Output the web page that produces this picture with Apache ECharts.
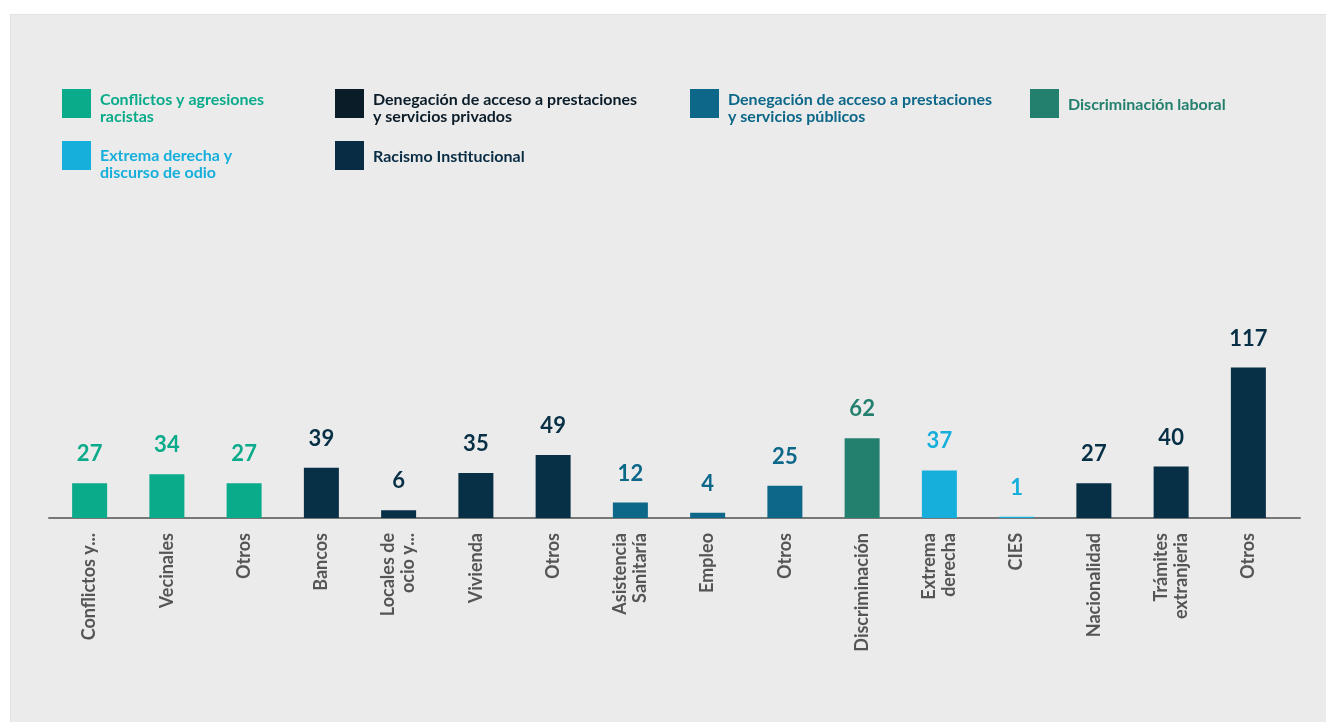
<!DOCTYPE html>
<html>
<head>
<meta charset="utf-8">
<script src="https://cdn.jsdelivr.net/npm/echarts@6/dist/echarts.min.js"></script>
<style>
  html, body { margin: 0; padding: 0; background: #fff; width: 1326px; height: 722px; overflow: hidden; }
  .panel { position: absolute; left: 10px; top: 14px; right: 0; bottom: 0; background: #ebebeb; border-left: 1px solid #e2e2e2; border-top: 1px solid #e2e2e2; }
  #chart { position: absolute; left: 0; top: 0; width: 1326px; height: 722px; }
</style>
</head>
<body>
<div class="panel"></div>
<div id="chart"></div>
<script>
  // categorias del eje x (en orden)
  var categories = ['Conflictos y...', 'Vecinales', 'Otros', 'Bancos', 'Locales de\nocio y...', 'Vivienda', 'Otros',
    'Asistencia\nSanitaría', 'Empleo', 'Otros', 'Discriminación', 'Extrema\nderecha', 'CIES',
    'Nacionalidad', 'Trámites\nextranjeria', 'Otros']

  // valores por grupo ('-' = no pertenece al grupo)
  var conflictos    = [27, 34, 27, '-', '-', '-', '-', '-', '-', '-', '-', '-', '-', '-', '-', '-']
  var privados      = ['-', '-', '-', 39, 6, 35, 49, '-', '-', '-', '-', '-', '-', '-', '-', '-']
  var publicos      = ['-', '-', '-', '-', '-', '-', '-', 12, 4, 25, '-', '-', '-', '-', '-', '-']
  var laboral       = ['-', '-', '-', '-', '-', '-', '-', '-', '-', '-', 62, '-', '-', '-', '-', '-']
  var extrema       = ['-', '-', '-', '-', '-', '-', '-', '-', '-', '-', '-', 37, 1, '-', '-', '-']
  var institucional = ['-', '-', '-', '-', '-', '-', '-', '-', '-', '-', '-', '-', '-', 27, 40, 117]

  // firstLine: alto de la primera linea del texto de la leyenda (empuja el texto hacia abajo)
  var groups = [
    { name: 'Conflictos y agresiones\nracistas', data: conflictos, color: '#0aab8a', legendColor: '#0aab8a', left: 62, top: 89, firstLine: 26 },
    { name: 'Denegación de acceso a prestaciones\ny servicios privados', data: privados, color: '#072f46', legendColor: '#0b1c29', left: 335, top: 89, firstLine: 26 },
    { name: 'Denegación de acceso a prestaciones\ny servicios públicos', data: publicos, color: '#0c6789', legendColor: '#0c6789', left: 690, top: 89, firstLine: 26 },
    { name: 'Discriminación laboral', data: laboral, color: '#24806e', legendColor: '#24806e', left: 1030, top: 89, firstLine: 18 },
    { name: 'Extrema derecha y\ndiscurso de odio', data: extrema, color: '#16afdc', legendColor: '#16afdc', left: 62, top: 141, firstLine: 34 },
    { name: 'Racismo Institucional', data: institucional, color: '#072f46', legendColor: '#082c43', left: 335, top: 141, firstLine: 18 }
  ]

  var chart = echarts.init(document.getElementById('chart'))

  var option = {
    backgroundColor: 'transparent',
    animation: false,
    textStyle: { fontFamily: 'Lato' },
    legend: groups.map(function (g) {
      var base = { color: g.legendColor, fontFamily: 'Lato', fontSize: 16, fontWeight: 'bold', padding: [0, 0, 0, 4] }
      return {
        left: g.left,
        top: g.top,
        padding: 0,
        itemWidth: 29,
        itemHeight: 29,
        selectedMode: false,
        data: [{
          name: g.name,
          icon: 'rect',
          itemStyle: { color: g.legendColor }
        }],
        formatter: function (name) {
          var lines = name.split('\n')
          return lines.map(function (l, i) {
            return (i === 0 ? '{a|' : '{b|') + l + '}'
          }).join('\n')
        },
        textStyle: {
          color: g.legendColor,
          fontFamily: 'Lato',
          fontSize: 16,
          fontWeight: 'bold',
          rich: {
            a: Object.assign({}, base, { lineHeight: g.firstLine, verticalAlign: 'bottom' }),
            b: Object.assign({}, base, { lineHeight: 18 })
          }
        }
      }
    }),
    grid: [
      { left: 51, right: 39, top: 325, bottom: 204 },
      { left: 49, right: 26, top: 325, bottom: 204 }
    ],
    xAxis: [
      {
        type: 'category',
        gridIndex: 0,
        data: categories,
        axisLine: { show: false },
        axisTick: { show: false },
        axisLabel: {
          rotate: 90,
          interval: 0,
          margin: 15,
          color: '#555',
          fontFamily: 'Lato',
          fontSize: 18,
          fontWeight: 'bold',
          lineHeight: 20
        }
      },
      {
        // linea base del eje
        type: 'value',
        gridIndex: 1,
        min: 0,
        max: 1,
        axisLine: { show: true, onZero: false, lineStyle: { color: '#777', width: 2 } },
        axisTick: { show: false },
        axisLabel: { show: false },
        splitLine: { show: false }
      }
    ],
    yAxis: [
      { type: 'value', gridIndex: 0, min: 0, max: 150, show: false },
      { type: 'value', gridIndex: 1, min: 0, max: 1, show: false }
    ],
    series: groups.map(function (g) {
      return {
        name: g.name,
        type: 'bar',
        stack: 'total',
        barWidth: 35,
        data: g.data,
        itemStyle: { color: g.color },
        label: {
          show: true,
          position: 'top',
          distance: 18,
          color: g.color,
          fontFamily: 'Lato',
          fontSize: 22,
          fontWeight: 'bold'
        }
      }
    })
  }

  chart.setOption(option)
</script>
</body>
</html>
